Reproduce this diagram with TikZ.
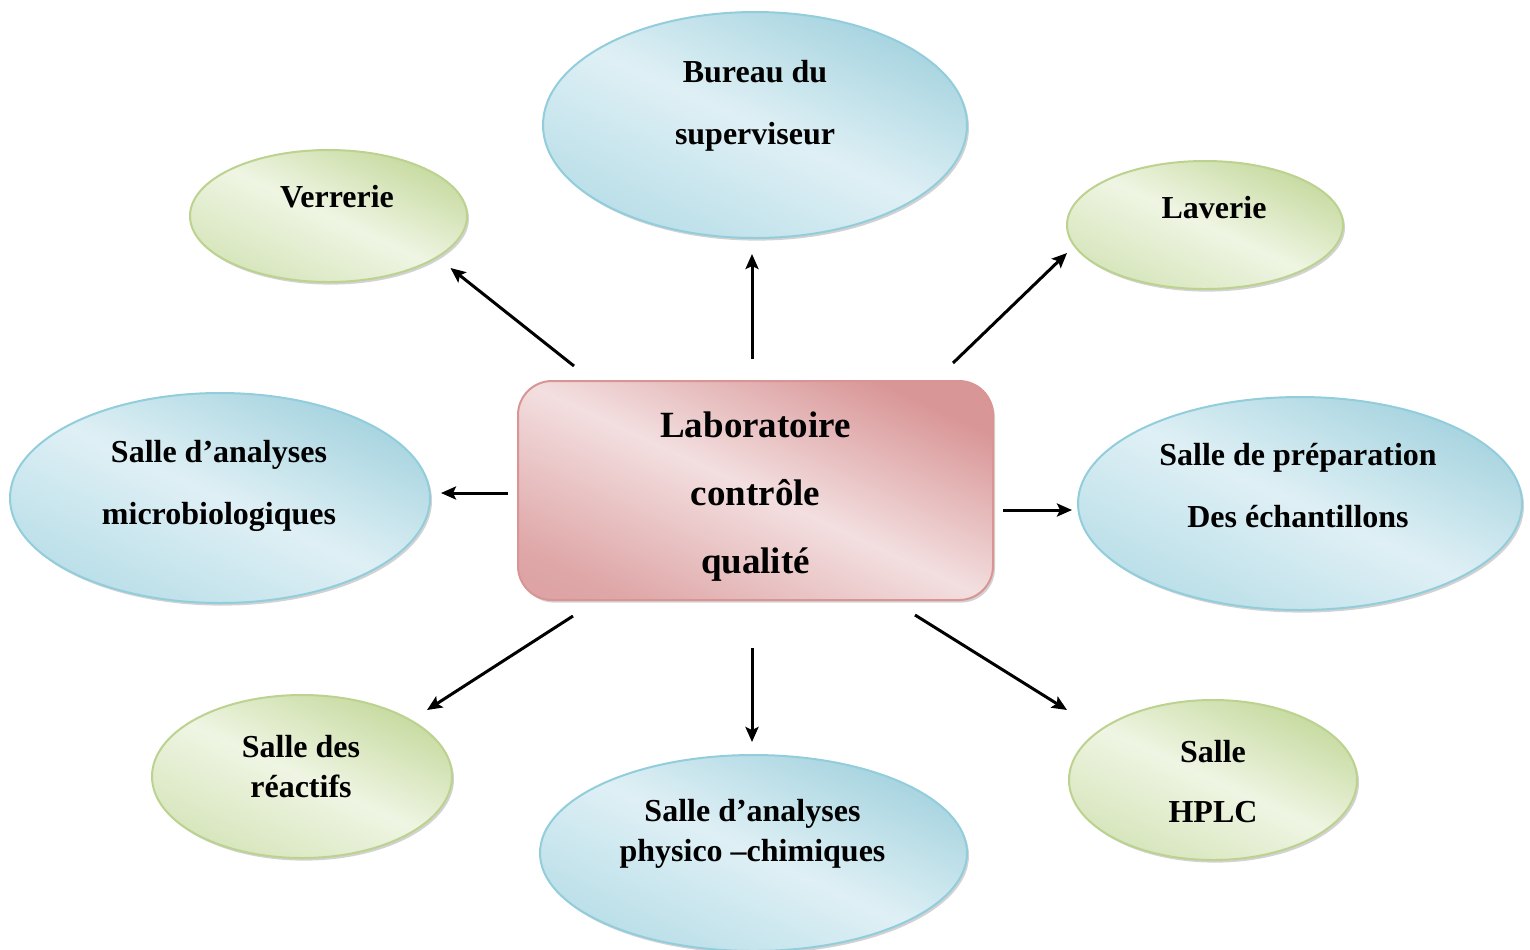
\documentclass[tikz,border=0pt]{standalone}
\usepackage{fontspec}
\setmainfont{Liberation Serif}
\usepackage{xcolor}
\usepackage{tikz}
\usetikzlibrary{arrows.meta,shapes.geometric,shadows}
\definecolor{bluelt}{HTML}{DFF0F5}
\definecolor{bluemd}{HTML}{B9DEE8}
\definecolor{bluedk}{HTML}{A5D3DF}
\definecolor{blueln}{HTML}{92CDDC}
\definecolor{greenlt}{HTML}{EFF5E3}
\definecolor{greenmd}{HTML}{D6E5BB}
\definecolor{greendk}{HTML}{C6DA9F}
\definecolor{greenln}{HTML}{BCD28F}
\definecolor{pinklt}{HTML}{F3DFE0}
\definecolor{pinkmd}{HTML}{DFA7A8}
\definecolor{pinkdk}{HTML}{D99697}
\definecolor{pinkln}{HTML}{D99594}
\pgfdeclareverticalshading{bluesh}{100bp}{color(0bp)=(bluemd); color(25bp)=(bluemd); color(50bp)=(bluelt); color(75bp)=(bluedk); color(100bp)=(bluedk)}
\pgfdeclareverticalshading{greensh}{100bp}{color(0bp)=(greenmd); color(25bp)=(greenmd); color(50bp)=(greenlt); color(75bp)=(greendk); color(100bp)=(greendk)}
\pgfdeclareverticalshading{pinksh}{100bp}{color(0bp)=(pinkdk); color(25bp)=(pinkmd); color(50bp)=(pinklt); color(75bp)=(pinkdk); color(100bp)=(pinkdk)}

\begin{document}
\begin{tikzpicture}[x=0.5pt,y=-0.5pt,
 lbl/.style={font=\bfseries\fontsize{16}{31}\selectfont,align=center,inner sep=0pt},
 room/.style={ellipse,line width=1pt,shading angle=-25,drop shadow={shadow xshift=1pt,shadow yshift=-1.3pt,fill=gray!70}},
 blueroom/.style={room,draw=blueln,shading=bluesh},
 greenroom/.style={room,draw=greenln,shading=greensh},
 labo/.style={rectangle,rounded corners=17pt,draw=pinkln,line width=1pt,shading=pinksh,shading angle=-25,minimum width=237.5pt,minimum height=109.5pt,align=center,font=\bfseries\fontsize{18.5}{34}\selectfont,drop shadow={shadow xshift=1pt,shadow yshift=-1.3pt,fill=gray!70}},
 arr/.style={-{Stealth[length=7.5pt,width=6.5pt,inset=1.5pt]},line width=1.5pt}]
\useasboundingbox (0,0) rectangle (1530,949);
\node[blueroom,minimum width=212pt,minimum height=113pt] (bur) at (755,125) {};
\node[greenroom,minimum width=138.5pt,minimum height=66pt] (verr) at (328.5,216) {};
\node[greenroom,minimum width=138pt,minimum height=64pt] (lav) at (1205,225) {};
\node[blueroom,minimum width=210pt,minimum height=105pt] (micro) at (220,498) {};
\node[blueroom,minimum width=222pt,minimum height=106.5pt] (prep) at (1300,503.5) {};
\node[greenroom,minimum width=150pt,minimum height=81.5pt] (reac) at (302,776.5) {};
\node[blueroom,minimum width=213.5pt,minimum height=98pt] (phys) at (753.5,853) {};
\node[greenroom,minimum width=144pt,minimum height=80pt] (hplc) at (1213,780) {};
\node[labo] (lab) at (755.5,490.5) {\rule{0pt}{19pt}Laboratoire\\contrôle\\qualité};
\node[lbl] at ([shift={(0,-19)}]bur.center) {Bureau du\\superviseur};
\node[lbl] at ([shift={(8.5,-19)}]verr.center) {Verrerie};
\node[lbl] at ([shift={(9,-17)}]lav.center) {Laverie};
\node[lbl] at ([shift={(-1,-12.5)}]micro.center) {Salle d’analyses\\microbiologiques};
\node[lbl] at ([shift={(-2,-18)}]prep.center) {Salle de préparation\\Des échantillons};
\node[lbl,font=\bfseries\fontsize{16}{20}\selectfont] at ([shift={(-1,-10)}]reac.center) {Salle des\\réactifs};
\node[lbl,font=\bfseries\fontsize{16}{20}\selectfont] at ([shift={(-1,-19)}]phys.center) {Salle d’analyses\\physico –chimiques};
\node[lbl,font=\bfseries\fontsize{16}{30}\selectfont] at ([shift={(0,2)}]hplc.center) {Salle\\HPLC};
\draw[arr] ([shift={(57,-14)}]lab.north west) -- ([shift={(122,52)}]verr.center);
\draw[arr] ([shift={(-3.5,-21)}]lab.north) -- ([shift={(-3,15)}]bur.south);
\draw[arr] ([shift={(-41,-17)}]lab.north east) -- ([shift={(-138,28)}]lav.center);
\draw[arr] ([shift={(-9,2.5)}]lab.west) -- ([shift={(221,-5)}]micro.center);
\draw[arr] ([shift={(9,19.5)}]lab.east) -- ([shift={(-228,6.5)}]prep.center);
\draw[arr] ([shift={(56,15)}]lab.south west) -- ([shift={(125,-66.5)}]reac.center);
\draw[arr] ([shift={(-3.5,47)}]lab.south) -- ([shift={(-1.5,-12)}]phys.north);
\draw[arr] ([shift={(-79,14)}]lab.south east) -- ([shift={(-146,-70)}]hplc.center);
\end{tikzpicture}
\end{document}
